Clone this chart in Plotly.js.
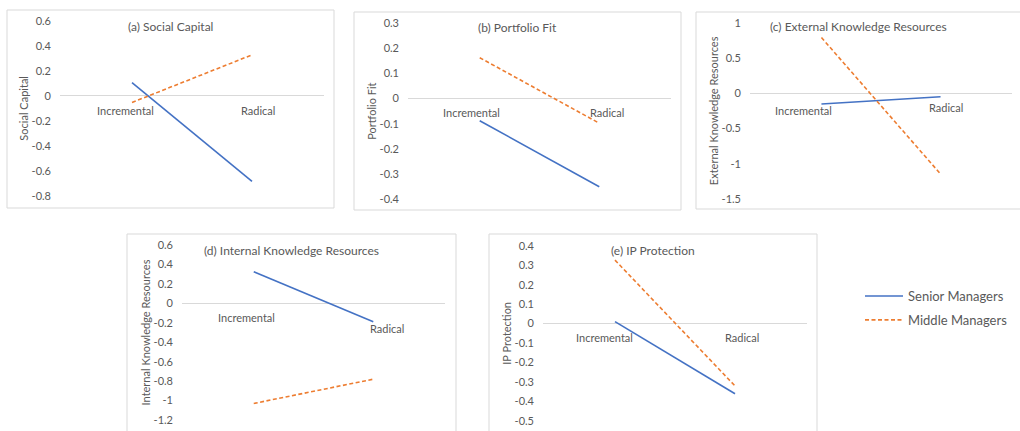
<!DOCTYPE html>
<html>
<head>
<meta charset="utf-8">
<script src="https://cdn.plot.ly/plotly-3.0.1.min.js"></script>
<style>html,body{margin:0;padding:0;background:#fff;}#chart{width:1020px;height:431px;}</style>
</head>
<body>
<div id="chart"></div>
<script>
// ---- data ----
const categories = ['Incremental', 'Radical'];
const seriesNames = ['Senior Managers', 'Middle Managers'];

const panelTitles = ['(a) Social Capital', '(b) Portfolio Fit', '(c) External Knowledge Resources',
                     '(d) Internal Knowledge Resources', '(e) IP Protection'];
const yTitles = ['Social Capital', 'Portfolio Fit', 'External Knowledge Resources',
                 'Internal Knowledge Resources', 'IP Protection'];

const seniorA = [0.106, -0.684];
const middleA = [-0.053, 0.327];
const seniorB = [-0.088, -0.351];
const middleB = [0.163, -0.098];
const seniorC = [-0.153, -0.05];
const middleC = [0.79, -1.146];
const seniorD = [0.325, -0.19];
const middleD = [-1.03, -0.78];
const seniorE = [0.01, -0.36];
const middleE = [0.326, -0.32];

const ticksA = [-0.8, -0.6, -0.4, -0.2, 0, 0.2, 0.4, 0.6];
const tickTextA = ['-0.8', '-0.6', '-0.4', '-0.2', '0', '0.2', '0.4', '0.6'];
const ticksB = [-0.4, -0.3, -0.2, -0.1, 0, 0.1, 0.2, 0.3];
const tickTextB = ['-0.4', '-0.3', '-0.2', '-0.1', '0', '0.1', '0.2', '0.3'];
const ticksC = [-1.5, -1, -0.5, 0, 0.5, 1];
const tickTextC = ['-1.5', '-1', '-0.5', '0', '0.5', '1'];
const ticksD = [-1.2, -1, -0.8, -0.6, -0.4, -0.2, 0, 0.2, 0.4, 0.6];
const tickTextD = ['-1.2', '-1', '-0.8', '-0.6', '-0.4', '-0.2', '0', '0.2', '0.4', '0.6'];
const ticksE = [-0.5, -0.4, -0.3, -0.2, -0.1, 0, 0.1, 0.2, 0.3, 0.4];
const tickTextE = ['-0.5', '-0.4', '-0.3', '-0.2', '-0.1', '0', '0.1', '0.2', '0.3', '0.4'];

// ---- layout of panels (styling / positions) ----
const FONT = 'Lato, "Open Sans", sans-serif';
const GREY = '#595959';
const BLUE = '#4472C4';
const ORANGE = '#ED7D31';
const DASH = '4px,2.5px';
const W = 1020, H = 431;

const panels = [
  {senior: seniorA, middle: middleA, ticks: ticksA, tickText: tickTextA,
   xPx: [60, 324], yPx: [20.7, 196], box: [7, 10, 334, 208], titleY: 26,
   labelShift: [[-7, -15], [6, -15]]},
  {senior: seniorB, middle: middleB, ticks: ticksB, tickText: tickTextB,
   xPx: [408, 671], yPx: [23.3, 199], box: [354, 12, 681, 210], titleY: 28,
   labelShift: [[-8, -14], [8, -14]]},
  {senior: seniorC, middle: middleC, ticks: ticksC, tickText: tickTextC,
   xPx: [750, 1012], yPx: [22.7, 199], box: [696, 12, 1030, 209], titleY: 27,
   labelShift: [[-18, -17], [5, -14]]},
  {senior: seniorD, middle: middleD, ticks: ticksD, tickText: tickTextD,
   xPx: [182, 445], yPx: [245, 420], box: [127, 234, 456, 440], titleY: 250,
   labelShift: [[-7, -14], [14, -25]]},
  {senior: seniorE, middle: middleE, ticks: ticksE, tickText: tickTextE,
   xPx: [543, 807], yPx: [245.7, 421], box: [489, 234, 817, 440], titleY: 251,
   labelShift: [[-11, -14], [7, -14]]}
];

const traces = [];
const layout = {
  width: W, height: H,
  margin: {l: 0, r: 0, t: 0, b: 0},
  paper_bgcolor: '#ffffff', plot_bgcolor: '#ffffff',
  font: {family: FONT, color: GREY, size: 11},
  showlegend: true,
  legend: {x: 860 / W, xanchor: 'left', y: 1 - 281 / H, yanchor: 'top',
           font: {family: FONT, size: 13, color: GREY}, traceorder: 'grouped',
           tracegroupgap: 4, itemwidth: 38, bgcolor: 'rgba(0,0,0,0)'},
  annotations: [], shapes: []
};

panels.forEach((p, i) => {
  const n = i + 1;
  const xa = n === 1 ? 'x' : 'x' + n;
  const ya = n === 1 ? 'y' : 'y' + n;
  const xKey = n === 1 ? 'xaxis' : 'xaxis' + n;
  const yKey = n === 1 ? 'yaxis' : 'yaxis' + n;
  const yr = [p.ticks[0], p.ticks[p.ticks.length - 1]];

  traces.push({type: 'scatter', mode: 'lines', x: categories, y: p.senior,
    name: seriesNames[0], legendgroup: 's', showlegend: i === 0,
    line: {color: BLUE, width: 1.6}, xaxis: xa, yaxis: ya, hoverinfo: 'skip'});
  traces.push({type: 'scatter', mode: 'lines', x: categories, y: p.middle,
    name: seriesNames[1], legendgroup: 'm', showlegend: i === 0,
    line: {color: ORANGE, width: 1.6, dash: DASH}, xaxis: xa, yaxis: ya, hoverinfo: 'skip'});

  layout[xKey] = {domain: [p.xPx[0] / W, p.xPx[1] / W], anchor: ya, type: 'category',
    range: [-0.6, 1.6], showticklabels: false, showgrid: false, zeroline: false,
    showline: false, ticks: '', fixedrange: true};
  layout[yKey] = {domain: [1 - p.yPx[1] / H, 1 - p.yPx[0] / H], anchor: xa, range: yr,
    tickmode: 'array', tickvals: p.ticks, ticktext: p.tickText, showgrid: false,
    zeroline: true, zerolinecolor: '#D9D9D9', zerolinewidth: 1, showline: false,
    ticks: '', ticklabelstandoff: 8, tickfont: {family: FONT, size: 11, color: GREY},
    title: {text: yTitles[i], font: {family: FONT, size: 11, color: GREY}, standoff: 0},
    fixedrange: true};

  // panel frame
  layout.shapes.push({type: 'rect', xref: 'paper', yref: 'paper',
    x0: p.box[0] / W, x1: p.box[2] / W, y0: 1 - p.box[3] / H, y1: 1 - p.box[1] / H,
    line: {color: '#D9D9D9', width: 1}, fillcolor: 'rgba(0,0,0,0)', layer: 'below'});

  // panel title
  layout.annotations.push({text: panelTitles[i], xref: 'paper', yref: 'paper',
    x: (p.box[0] + Math.min(p.box[2], W)) / 2 / W, y: 1 - p.titleY / H,
    xanchor: 'center', yanchor: 'middle', showarrow: false,
    font: {family: FONT, size: 12, color: GREY}});

  // category labels sitting next to the zero axis
  categories.forEach((c, k) => {
    layout.annotations.push({text: c, xref: xa, yref: ya, x: c, y: 0,
      xanchor: 'center', yanchor: 'middle', showarrow: false,
      xshift: p.labelShift[k][0], yshift: p.labelShift[k][1],
      font: {family: FONT, size: 11, color: GREY}});
  });
});

Plotly.newPlot('chart', traces, layout, {staticPlot: true, displayModeBar: false});
</script>
</body>
</html>
